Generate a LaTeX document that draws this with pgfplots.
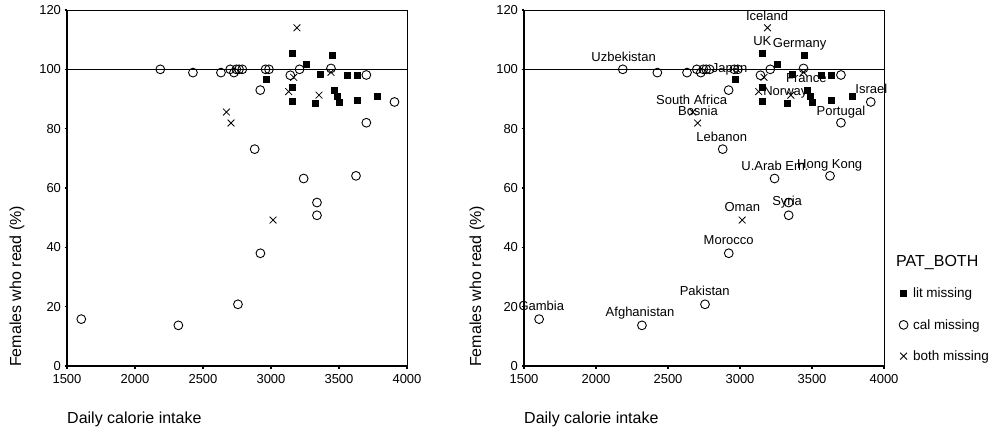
\documentclass[border=0pt]{standalone}
\usepackage{fontspec}
\setmainfont{Liberation Sans}
\usepackage{pgfplots}
\pgfplotsset{compat=1.18}
\begin{document}
\begin{tikzpicture}
\path[use as bounding box] (0,0) rectangle (993pt,432pt);
\pgfplotsset{
  myaxis/.style={
    scale only axis, height=356pt,
    xmin=1500, xmax=4000, ymin=0, ymax=120,
    xtick={1500,2000,...,4000}, ytick={0,20,...,120},
    tick align=outside, major tick length=2.5pt,
    xtick pos=bottom, ytick pos=left,
    tick style={black, line width=1.5pt},
    axis line style={line width=0.8pt},
    /pgf/number format/assume math mode=true,
    /pgf/number format/1000 sep={},
    scaled ticks=false,
    tick label style={font=\fontsize{13}{15}\selectfont},
    xticklabel style={yshift=-2pt},
    clip=false,
  },
  sq/.style={only marks, mark=square*, mark size=3pt, mark options={fill=black, draw=black}},
  ci/.style={only marks, mark=o, mark size=4.4pt, mark options={line width=0.9pt, draw=black}},
  cr/.style={only marks, mark=x, mark size=4.8pt, mark options={line width=0.8pt, draw=black}},
}
\newcommand{\plotdata}{%
  \addplot[black, line width=0.8pt] coordinates {(1500,100) (4000,100)};
  \addplot[sq] coordinates {(2965,96.6) (3154,105.4) (3154,93.9) (3154,89.1) (3260,101.8) (3325,88.5) (3363,98.5) (3448,104.8) (3466,93.0) (3485,90.8) (3504,89.0) (3563,98.1) (3632,98.1) (3632,89.7) (3779,90.8)};
  \addplot[ci] coordinates {(1605,15.8) (2186,100) (2319,13.7) (2426,98.9) (2632,98.9) (2700,100) (2728,98.9) (2745,100) (2765,100) (2789,100) (2757,20.8) (2880,73.1) (2921,93.0) (2922,38.0) (2960,100) (2985,100) (3142,98.0) (3210,100) (3240,63.2) (3338,55.1) (3338,50.8) (3441,100.3) (3625,64.1) (3701,98.1) (3701,82.0) (3908,89.0)};
  \addplot[cr] coordinates {(3191,114.0) (2672,85.6) (2706,81.9) (3130,92.5) (3167,97.3) (3353,91.3) (3441,99.0) (3015,49.2)};
  \draw[line width=1.6pt] (axis description cs:0,1) -- (axis description cs:0,0) -- (axis description cs:1,0);
}
\begin{axis}[myaxis, width=340pt, at={(67pt,66pt)}, anchor=south west]
\plotdata
\end{axis}
\begin{axis}[myaxis, width=360pt, at={(524pt,66pt)}, anchor=south west,
  legend style={at={(1,0)}, anchor=south west, xshift=12pt, yshift=0pt, draw=none, fill=none,
    font=\fontsize{13.5}{15}\selectfont, row sep=16pt,
    /tikz/every odd column/.append style={column sep=3pt}},
  legend cell align=left,
  legend image code/.code={\draw[mark repeat=2,mark phase=2,#1] plot coordinates {(0cm,0cm) (0.15cm,0cm) (0.3cm,0cm)};}]
\plotdata
\legend{,lit missing,cal missing,both missing}
\begin{scope}[every node/.style={font=\fontsize{13}{15}\selectfont, anchor=base, inner sep=0pt}]
\node at (axis cs:3188,116.6) {Iceland};
\node at (axis cs:3155,108.2) {UK};
\node at (axis cs:3414,107.3) {Germany};
\node at (axis cs:2192,102.6) {Uzbekistan};
\node at (axis cs:2928,99.0) {Japan};
\node at (axis cs:3461,95.4) {France};
\node at (axis cs:3315,91.2) {Norway};
\node at (axis cs:3912,91.7) {Israel};
\node at (axis cs:2664,88.1) {South Africa};
\node at (axis cs:2708,84.4) {Bosnia};
\node at (axis cs:3701,84.5) {Portugal};
\node at (axis cs:2873,75.8) {Lebanon};
\node at (axis cs:3243,65.8) {U.Arab Em.};
\node at (axis cs:3623,66.6) {Hong Kong};
\node at (axis cs:3327,54.0) {Syria};
\node at (axis cs:3016,52.1) {Oman};
\node at (axis cs:2921,40.9) {Morocco};
\node at (axis cs:2755,23.8) {Pakistan};
\node at (axis cs:1620,18.6) {Gambia};
\node at (axis cs:2306,16.7) {Afghanistan};
\end{scope}
\end{axis}
\node[anchor=west, inner sep=0pt, font=\fontsize{16}{18}\selectfont] at (67pt,13pt) {Daily calorie intake};
\node[anchor=west, inner sep=0pt, font=\fontsize{16}{18}\selectfont] at (524pt,13pt) {Daily calorie intake};
\node[anchor=west, rotate=90, inner sep=0pt, font=\fontsize{16}{18}\selectfont] at (17pt,65pt) {Females who read (\%)};
\node[anchor=west, rotate=90, inner sep=0pt, font=\fontsize{16}{18}\selectfont] at (477pt,65pt) {Females who read (\%)};
\node[anchor=west, inner sep=0pt, font=\fontsize{16}{18}\selectfont] at (896pt,169pt) {PAT\_BOTH};
\end{tikzpicture}
\end{document}
